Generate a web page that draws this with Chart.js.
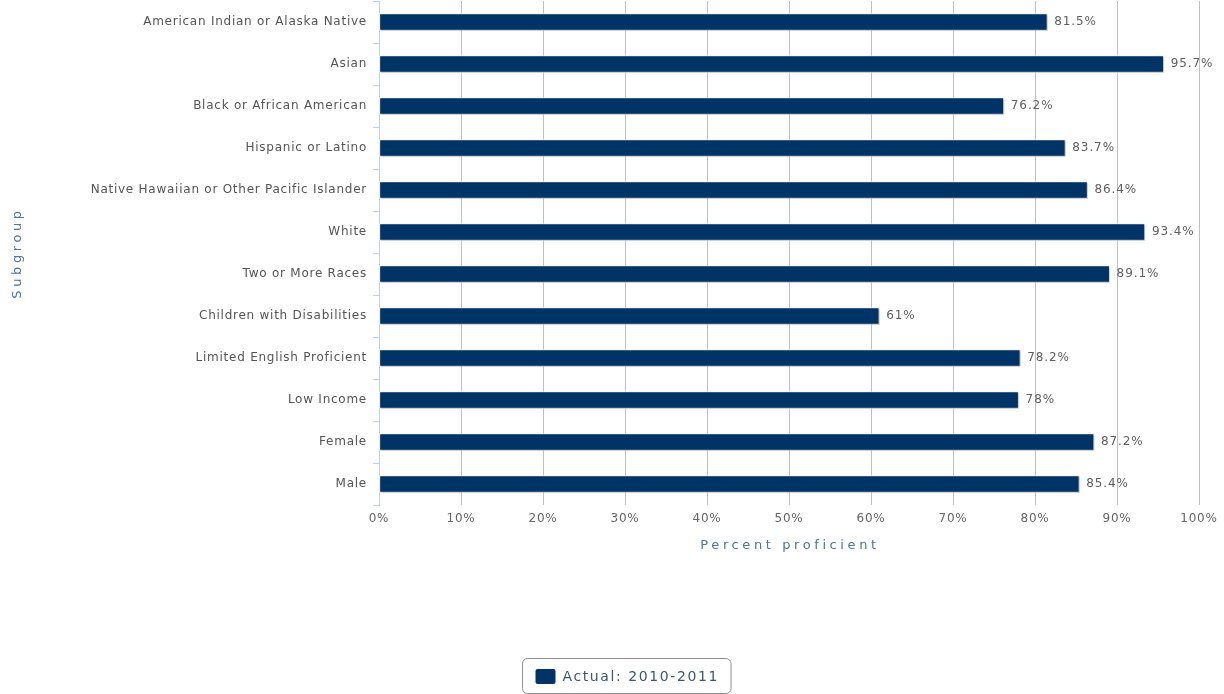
<!DOCTYPE html>
<html>
<head>
<meta charset="utf-8">
<title>Percent proficient by subgroup</title>
<script src="https://cdn.jsdelivr.net/npm/chart.js@4/dist/chart.umd.min.js"></script>
<style>
  html, body { margin: 0; padding: 0; background: #fff; }
  #wrap { width: 1224px; height: 694px; position: relative; }
</style>
</head>
<body>
<div id="wrap"><canvas id="chart" width="1224" height="694"></canvas></div>
<script>
const subgroups = [
  'American Indian or Alaska Native',
  'Asian',
  'Black or African American',
  'Hispanic or Latino',
  'Native Hawaiian or Other Pacific Islander',
  'White',
  'Two or More Races',
  'Children with Disabilities',
  'Limited English Proficient',
  'Low Income',
  'Female',
  'Male'
];
const proficient = [81.5, 95.7, 76.2, 83.7, 86.4, 93.4, 89.1, 61, 78.2, 78, 87.2, 85.4];
const seriesName = 'Actual: 2010-2011';
const xTickValues = [0, 10, 20, 30, 40, 50, 60, 70, 80, 90, 100];
const xTitle = 'Percent proficient';
const yTitle = 'Subgroup';

const FONT = '"DejaVu Sans", "Lucida Grande", sans-serif';
const LABEL_SPACING = '0.75px';

// Slightly tracked text everywhere, applied before measuring and drawing
const tracking = {
  id: 'tracking',
  beforeLayout(chart) { chart.ctx.letterSpacing = LABEL_SPACING; },
  beforeDraw(chart) { chart.ctx.letterSpacing = LABEL_SPACING; }
};

// Soft drop shadow under each bar
const barShadow = {
  id: 'barShadow',
  beforeDatasetsDraw(chart) {
    const ctx = chart.ctx;
    ctx.save();
    ctx.shadowColor = 'rgba(0,0,0,0.28)';
    ctx.shadowOffsetX = 1;
    ctx.shadowOffsetY = 1;
    ctx.shadowBlur = 2;
  },
  afterDatasetsDraw(chart) {
    chart.ctx.restore();
  }
};

// Value labels at the end of each bar
const valueLabels = {
  id: 'valueLabels',
  afterDatasetsDraw(chart) {
    const ctx = chart.ctx;
    const meta = chart.getDatasetMeta(0);
    ctx.save();
    ctx.font = '12px ' + FONT;
    ctx.letterSpacing = '0.9px';
    ctx.fillStyle = '#606060';
    ctx.textAlign = 'left';
    ctx.textBaseline = 'middle';
    meta.data.forEach((bar, i) => {
      ctx.fillText(proficient[i] + '%', bar.x + 7, bar.y);
    });
    ctx.restore();
  }
};

// Axis titles (letter-spaced) and the bordered legend
const titlesAndLegend = {
  id: 'titlesAndLegend',
  afterDraw(chart) {
    const ctx = chart.ctx;
    const area = chart.chartArea;
    ctx.save();
    ctx.font = '13px ' + FONT;
    ctx.fillStyle = '#4d759e';
    ctx.letterSpacing = '3.6px';
    ctx.textAlign = 'center';
    ctx.textBaseline = 'middle';
    ctx.fillText(xTitle, (area.left + area.right) / 2 + 1, 546);
    ctx.save();
    ctx.translate(18, (area.top + area.bottom) / 2);
    ctx.rotate(-Math.PI / 2);
    ctx.fillText(yTitle, 0, 0);
    ctx.restore();

    // legend
    ctx.letterSpacing = '1.6px';
    ctx.font = '14px ' + FONT;
    const textW = ctx.measureText(seriesName).width;
    const boxW = 20, gap = 7, padL = 13, padR = 12;
    const w = padL + boxW + gap + textW + padR;
    const h = 35;
    const cx = 626.5;
    const x0 = Math.round(cx - w / 2) + 0.5, y0 = 658.5;
    ctx.beginPath();
    ctx.roundRect(x0, y0, w, h, 5);
    ctx.strokeStyle = '#909090';
    ctx.lineWidth = 1;
    ctx.stroke();
    ctx.fillStyle = '#003366';
    ctx.beginPath();
    ctx.roundRect(x0 + padL, 669, boxW, 15, 2);
    ctx.fill();
    ctx.fillStyle = '#3E576F';
    ctx.textAlign = 'left';
    ctx.fillText(seriesName, x0 + padL + boxW + gap, 677);
    ctx.restore();
  }
};

new Chart(document.getElementById('chart'), {
  type: 'bar',
  data: {
    labels: subgroups,
    datasets: [{
      label: seriesName,
      data: proficient,
      backgroundColor: '#003366',
      borderColor: '#ffffff',
      borderWidth: 1,
      borderSkipped: false,
      barThickness: 17
    }]
  },
  options: {
    indexAxis: 'y',
    responsive: false,
    animation: false,
    layout: { padding: { top: 1, right: 25, bottom: 0, left: 0 } },
    plugins: {
      legend: { display: false },
      tooltip: { enabled: false }
    },
    scales: {
      x: {
        min: 0,
        max: 100,
        afterBuildTicks(scale) {
          scale.ticks = xTickValues.map(v => ({ value: v }));
        },
        afterFit(scale) {
          scale.height = 694 - 505;
          scale.paddingLeft = 0;
          scale.paddingRight = 0;
        },
        grid: {
          color: '#c0c0c0',
          lineWidth: 1,
          drawTicks: false
        },
        border: { display: false },
        ticks: {
          font: { family: FONT, size: 12 },
          color: '#666666',
          padding: 7,
          callback: v => v + '%'
        }
      },
      y: {
        afterFit(scale) {
          scale.width = 379;
          scale.paddingTop = 0;
          scale.paddingBottom = 0;
        },
        grid: {
          offset: true,
          drawOnChartArea: false,
          drawTicks: true,
          tickLength: 6,
          color: '#C0D0E0'
        },
        border: { display: true, color: '#C0D0E0', width: 1 },
        ticks: {
          font: { family: FONT, size: 12 },
          color: '#555555',
          padding: 6,
          autoSkip: false
        }
      }
    }
  },
  plugins: [tracking, barShadow, valueLabels, titlesAndLegend]
});
</script>
</body>
</html>
